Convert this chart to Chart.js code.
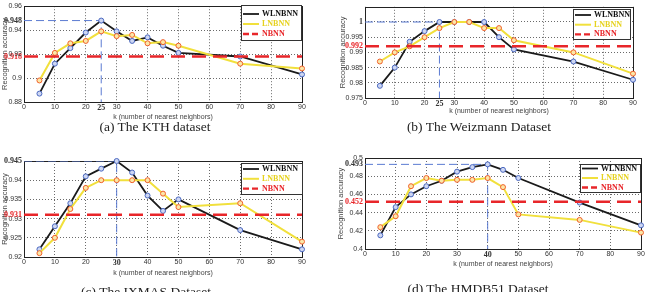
<!DOCTYPE html>
<html>
<head>
<meta charset="utf-8">
<script src="https://cdn.jsdelivr.net/npm/chart.js@4.4.0/dist/chart.umd.min.js"></script>
<style>
body { margin: 0; background: #fff; }
#fig { position: relative; width: 646px; height: 292px; overflow: hidden; }
canvas { position: absolute; }
.cap { position: absolute; font-family: "Liberation Serif", "Times New Roman", serif; font-size: 13.5px; color: #222; white-space: nowrap; transform: translate(-50%, -50%); }
</style>
</head>
<body>
<div id="fig">
  <canvas id="kth" width="323" height="146" style="left:0;top:0"></canvas>
  <canvas id="weizmann" width="323" height="146" style="left:323px;top:0"></canvas>
  <canvas id="ixmas" width="323" height="146" style="left:0;top:146px"></canvas>
  <canvas id="hmdb" width="323" height="146" style="left:323px;top:146px"></canvas>
  <div class="cap" style="left:155px;top:127px">(a) The KTH dataset</div>
  <div class="cap" style="left:479px;top:127px">(b) The Weizmann Dataset</div>
  <div class="cap" style="left:146px;top:292px">(c) The IXMAS Dataset</div>
  <div class="cap" style="left:478px;top:289px">(d) The HMDB51 Dataset</div>
</div>
<script>
// k values shared by all four datasets
const kValues = [5, 10, 15, 20, 25, 30, 35, 40, 45, 50, 70, 90];
const xTicks = [0, 10, 20, 30, 40, 50, 60, 70, 80, 90];
const seriesNames = ['WLNBNN', 'LNBNN', 'NBNN'];

// (a) KTH
const kthWlnbnn = [0.887, 0.912, 0.925, 0.938, 0.948, 0.939, 0.931, 0.934, 0.927, 0.921, 0.918, 0.903];
const kthLnbnn = [0.898, 0.921, 0.929, 0.931, 0.939, 0.935, 0.936, 0.929, 0.930, 0.927, 0.912, 0.908];
const kthNbnn = 0.918;
const kthBestK = 25;
const kthBest = 0.948;
const kthYTicks = [0.88, 0.9, 0.92, 0.94, 0.96];

// (b) Weizmann
const weizWlnbnn = [0.979, 0.985, 0.9935, 0.997, 1, 1, 1, 1, 0.995, 0.991, 0.987, 0.981];
const weizLnbnn = [0.987, 0.990, 0.992, 0.995, 0.998, 1, 1, 0.998, 0.998, 0.994, 0.990, 0.983];
const weizNbnn = 0.992;
const weizBestK = 25;
const weizBest = 1;
const weizYTicks = [0.975, 0.98, 0.985, 0.99, 0.995, 1];

// (c) IXMAS
const ixmasWlnbnn = [0.922, 0.928, 0.934, 0.941, 0.943, 0.945, 0.942, 0.936, 0.932, 0.935, 0.927, 0.922];
const ixmasLnbnn = [0.921, 0.925, 0.9325, 0.938, 0.940, 0.940, 0.940, 0.940, 0.9365, 0.933, 0.934, 0.924];
const ixmasNbnn = 0.931;
const ixmasBestK = 30;
const ixmasBest = 0.945;
const ixmasYTicks = [0.92, 0.925, 0.93, 0.935, 0.94, 0.945];

// (d) HMDB51
const hmdbWlnbnn = [0.415, 0.446, 0.460, 0.469, 0.475, 0.485, 0.490, 0.493, 0.487, 0.478, 0.451, 0.426];
const hmdbLnbnn = [0.424, 0.436, 0.469, 0.478, 0.475, 0.476, 0.476, 0.478, 0.468, 0.438, 0.432, 0.418];
const hmdbNbnn = 0.452;
const hmdbBestK = 40;
const hmdbBest = 0.493;
const hmdbYTicks = [0.4, 0.42, 0.44, 0.46, 0.48, 0.5];

const RED = '#e8262a';
const YELLOW = '#f1e03c';
const BLUE = '#5b7bd2';
const GRID = '#6a6a6a';
const legendTextColors = ['#111', '#e6d21e', RED];

const same = (a, b) => Math.abs(a - b) < 1e-9;
const tickVal = c => (c && c.tick) ? c.tick.value : NaN;

// box around plot area, like matlab
const framePlugin = {
  id: 'frame',
  beforeDatasetsDraw(chart) {
    const { ctx, chartArea: a } = chart;
    ctx.save();
    ctx.strokeStyle = '#222';
    ctx.lineWidth = 1;
    ctx.strokeRect(Math.round(a.left) + 0.5, Math.round(a.top) + 0.5,
      Math.round(a.right - a.left), Math.round(a.bottom - a.top));
    ctx.restore();
  }
};

// boxed legend in the upper right corner
const boxLegend = {
  id: 'boxLegend',
  afterDraw(chart, args, opts) {
    const { ctx, chartArea } = chart;
    const w = opts.width, h = opts.height;
    const x = Math.round(chartArea.right - w - opts.right);
    const y = Math.round(chartArea.top + opts.top);
    ctx.save();
    ctx.fillStyle = '#fff';
    ctx.fillRect(x, y, w, h);
    ctx.strokeStyle = '#333';
    ctx.lineWidth = 1;
    ctx.strokeRect(x + 0.5, y + 0.5, w - 1, h - 1);
    seriesNames.forEach((name, i) => {
      const ds = chart.data.datasets.find(d => d.label === name);
      const ly = y + opts.rowTop + i * opts.rowGap;
      ctx.strokeStyle = ds.borderColor;
      ctx.lineWidth = ds.borderWidth;
      ctx.setLineDash(name === 'NBNN' ? [6, 3] : []);
      ctx.beginPath();
      ctx.moveTo(x + 2, ly);
      ctx.lineTo(x + 18, ly);
      ctx.stroke();
      ctx.setLineDash([]);
      ctx.fillStyle = legendTextColors[i];
      ctx.font = 'bold 8px "Liberation Serif", serif';
      ctx.textBaseline = 'middle';
      ctx.fillText(name, x + 21, ly);
    });
    ctx.restore();
  }
};

function drawPanel(id, p) {
  const yMin = p.yTicks[0];
  const xAll = [...new Set(xTicks.concat([p.bestK]))].sort((a, b) => a - b);
  const yAll = [...new Set(p.yTicks.concat([p.best, p.nbnn]))].sort((a, b) => a - b);
  const normalFont = { family: 'Liberation Sans', size: 7 };
  const specialFont = { family: 'Liberation Serif', size: 8, weight: 'bold' };

  new Chart(document.getElementById(id), {
    type: 'line',
    data: {
      datasets: [
        {
          label: 'NBNN',
          data: [{ x: 0, y: p.nbnn }, { x: 90, y: p.nbnn }],
          borderColor: RED, borderWidth: 2.4, borderDash: [14, 7],
          pointRadius: 0, order: 0
        },
        {
          label: 'LNBNN',
          data: kValues.map((k, i) => ({ x: k, y: p.ln[i] })),
          borderColor: YELLOW, borderWidth: 2,
          pointRadius: 2.5, pointBorderWidth: 1,
          pointBorderColor: '#f0602c', pointBackgroundColor: '#fbe7a8',
          clip: false, order: 1
        },
        {
          label: 'WLNBNN',
          data: kValues.map((k, i) => ({ x: k, y: p.wl[i] })),
          borderColor: '#1a1a1a', borderWidth: 1.8,
          pointRadius: 2.5, pointBorderWidth: 1,
          pointBorderColor: '#4a68c0', pointBackgroundColor: '#cdd6f2',
          clip: false, order: 2
        },
        {
          label: 'best',
          data: [{ x: 0, y: p.best }, { x: p.bestK, y: p.best }, { x: p.bestK, y: yMin }],
          borderColor: BLUE, borderWidth: 1, borderDash: [8, 4],
          pointRadius: 0, order: 3
        }
      ]
    },
    options: {
      responsive: false,
      animation: false,
      layout: { padding: p.pad },
      plugins: {
        legend: { display: false },
        tooltip: { enabled: false },
        boxLegend: p.legend
      },
      scales: {
        x: {
          type: 'linear', min: 0, max: 90,
          afterBuildTicks: s => { s.ticks = xAll.map(v => ({ value: v })); },
          afterFit: s => { s.height = p.xHeight; },
          ticks: {
            autoSkip: false, maxRotation: 0, minRotation: 0, padding: 1,
            color: '#333',
            font: c => same(tickVal(c), p.bestK) ? specialFont : normalFont,
            callback: v => String(v)
          },
          grid: {
            color: c => xTicks.some(t => same(t, tickVal(c))) ? GRID : 'transparent',
            lineWidth: 1, drawTicks: false
          },
          border: { display: false, dash: [1, 2] },
          title: {
            display: true, text: 'k (number of nearest neighbors)',
            color: '#444', padding: 0,
            font: { family: 'Liberation Sans', size: 7 }
          }
        },
        y: {
          type: 'linear', min: yMin, max: p.yMax,
          afterBuildTicks: s => { s.ticks = yAll.map(v => ({ value: v })); },
          afterFit: s => { s.width = p.yWidth; },
          ticks: {
            autoSkip: false, padding: 2,
            color: c => same(tickVal(c), p.nbnn) ? RED : '#333',
            font: c => (same(tickVal(c), p.nbnn) || same(tickVal(c), p.best)) ? specialFont : normalFont,
            callback: v => String(+v.toFixed(4))
          },
          grid: {
            color: c => p.yTicks.some(t => same(t, tickVal(c))) ? GRID : 'transparent',
            lineWidth: 1, drawTicks: false
          },
          border: { display: false, dash: [1, 2] },
          title: {
            display: true, text: 'Recognition accuracy',
            color: '#444', padding: 0,
            font: { family: 'Liberation Sans', size: 7.5 }
          }
        }
      }
    },
    plugins: [framePlugin, boxLegend]
  });
}

drawPanel('kth', {
  wl: kthWlnbnn, ln: kthLnbnn, nbnn: kthNbnn, bestK: kthBestK, best: kthBest,
  yTicks: kthYTicks, yMax: 0.96,
  pad: { left: 0, top: 6, right: 21, bottom: 25 }, yWidth: 24, xHeight: 19,
  legend: { width: 61, height: 36, right: 0, top: -1, rowTop: 9, rowGap: 10 }
});
drawPanel('weizmann', {
  wl: weizWlnbnn, ln: weizLnbnn, nbnn: weizNbnn, bestK: weizBestK, best: weizBest,
  yTicks: weizYTicks, yMax: 1.005,
  pad: { left: 15, top: 6, right: 13, bottom: 31 }, yWidth: 27, xHeight: 17,
  legend: { width: 58, height: 31, right: 2, top: 2, rowTop: 6, rowGap: 9.7 }
});
drawPanel('ixmas', {
  wl: ixmasWlnbnn, ln: ixmasLnbnn, nbnn: ixmasNbnn, bestK: ixmasBestK, best: ixmasBest,
  yTicks: ixmasYTicks, yMax: 0.945,
  pad: { left: 0, top: 15, right: 21, bottom: 15 }, yWidth: 24, xHeight: 20,
  legend: { width: 62, height: 32, right: -1, top: 2, rowTop: 6, rowGap: 9.8 }
});
drawPanel('hmdb', {
  wl: hmdbWlnbnn, ln: hmdbLnbnn, nbnn: hmdbNbnn, bestK: hmdbBestK, best: hmdbBest,
  yTicks: hmdbYTicks, yMax: 0.5,
  pad: { left: 13, top: 12, right: 4, bottom: 24 }, yWidth: 29, xHeight: 19,
  legend: { width: 61, height: 29, right: 0, top: 6, rowTop: 4.5, rowGap: 9.5 }
});
</script>
</body>
</html>
